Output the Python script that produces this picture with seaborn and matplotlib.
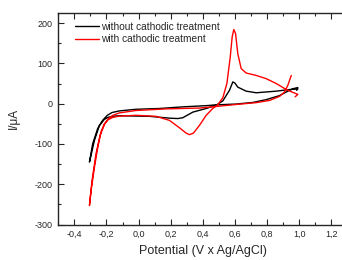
import numpy as np
import pandas as pd
import matplotlib
matplotlib.use('Agg')
import matplotlib.pyplot as plt
import seaborn as sns
from matplotlib.ticker import MultipleLocator, FuncFormatter

# Cyclic voltammograms (potential in V, current in uA)
# branch A: the scan with the reduction dip and the oxidation peak
# branch B: the smooth scan
black_a_x = [-0.306, -0.275, -0.244, -0.213, -0.190, -0.165, -0.119, 0.068, 0.192, 0.244,
             0.275, 0.338, 0.421, 0.483, 0.525, 0.566, 0.587, 0.600, 0.618, 0.670,
             0.733, 0.857, 0.940, 0.992]
black_a_y = [-145, -91, -54, -39, -34, -31.5, -30, -31.5, -36, -37,
             -35, -21, -12, -4, 7, 33, 54, 51, 41, 31,
             27, 31, 35, 36.5]
black_b_x = [-0.306, -0.286, -0.255, -0.223, -0.195, -0.165, -0.119, -0.016, 0.13, 0.275,
             0.421, 0.483, 0.608, 0.712, 0.795, 0.878, 0.920, 0.961, 0.992, 0.985]
black_b_y = [-145, -100, -62, -41, -29, -22, -18, -14, -12, -8,
             -5, -3, -1, 3, 10, 20, 29, 37, 40, 33]

red_a_x = [-0.306, -0.296, -0.275, -0.254, -0.234, -0.213, -0.190, -0.160, -0.120, -0.016,
           0.109, 0.192, 0.255, 0.296, 0.317, 0.342, 0.379, 0.421, 0.462, 0.494,
           0.525, 0.550, 0.571, 0.583, 0.593, 0.604, 0.618, 0.639, 0.670, 0.733,
           0.795, 0.857, 0.920, 0.961, 0.992, 0.975]
red_a_y = [-253, -216, -158, -108, -70, -50, -40, -34, -31, -29,
           -31.5, -41.5, -60, -73, -77, -73, -54, -29, -12, -2.5,
           15, 50, 116, 166, 184, 174, 124, 87, 76, 70,
           62, 50, 35, 28, 23, 17]
red_b_x = [-0.306, -0.290, -0.265, -0.240, -0.213, -0.190, -0.160, -0.120, -0.016, 0.171,
           0.379, 0.483, 0.608, 0.733, 0.816, 0.878, 0.909, 0.930, 0.951]
red_b_y = [-253, -191, -124, -79, -52, -38, -29, -23, -17, -13,
           -11, -7, -2, 2.5, 8, 18, 29, 46, 70]

labels = ['without cathodic treatment', 'with cathodic treatment']
colors = ['black', 'red']

x_ticks = [-0.4, -0.2, 0.0, 0.2, 0.4, 0.6, 0.8, 1.0, 1.2]
y_ticks = [-300, -200, -100, 0, 100, 200]


def loop(ax_, ay_, bx_, by_):
    # join both scans into one path: end of A back to start, then along B
    x = list(reversed(ax_)) + list(bx_[1:])
    y = list(reversed(ay_)) + list(by_[1:])
    return pd.DataFrame({'E': x, 'I': y})


curves = [loop(black_a_x, black_a_y, black_b_x, black_b_y),
          loop(red_a_x, red_a_y, red_b_x, red_b_y)]

sns.set_style('ticks')
plt.rcParams['font.family'] = ['Liberation Sans', 'DejaVu Sans']
plt.rcParams['xtick.direction'] = 'in'
plt.rcParams['ytick.direction'] = 'in'

fig = plt.figure(figsize=(3.42, 2.60), dpi=100)
ax = fig.add_axes([0.1705, 0.1365, 0.845, 0.8135])

for df, lab, col in zip(curves, labels, colors):
    sns.lineplot(data=df, x='E', y='I', sort=False, estimator=None,
                 color=col, linewidth=1.0, label=lab, ax=ax)

ax.set_xlim(-0.5, 1.3)
ax.set_ylim(-300, 225)
ax.set_xticks(x_ticks)
ax.set_yticks(y_ticks)
ax.xaxis.set_minor_locator(MultipleLocator(0.1))
ax.yaxis.set_minor_locator(MultipleLocator(50))
ax.xaxis.set_major_formatter(FuncFormatter(lambda v, p: f'{v:.1f}'.replace('.', ',')))
ax.yaxis.set_major_formatter(FuncFormatter(lambda v, p: f'{v:.0f}'))

ax.tick_params(which='major', length=4, width=0.8, labelsize=6.5, pad=4)
ax.tick_params(which='minor', length=2, width=0.8)
ax.tick_params(axis='x', which='both', top=True, labeltop=False)
for sp in ax.spines.values():
    sp.set_linewidth(1.0)

ax.set_xlabel('Potential (V x Ag/AgCl)', fontsize=9, labelpad=4)
ax.set_ylabel('I/\u03bcA', fontsize=8.5, labelpad=11)

ax.legend(loc='upper left', bbox_to_anchor=(0.045, 0.978), frameon=False,
          fontsize=7.3, handlelength=2.3, handletextpad=0.2, labelspacing=0.25,
          borderaxespad=0)

fig.savefig('out.png', dpi=100)
